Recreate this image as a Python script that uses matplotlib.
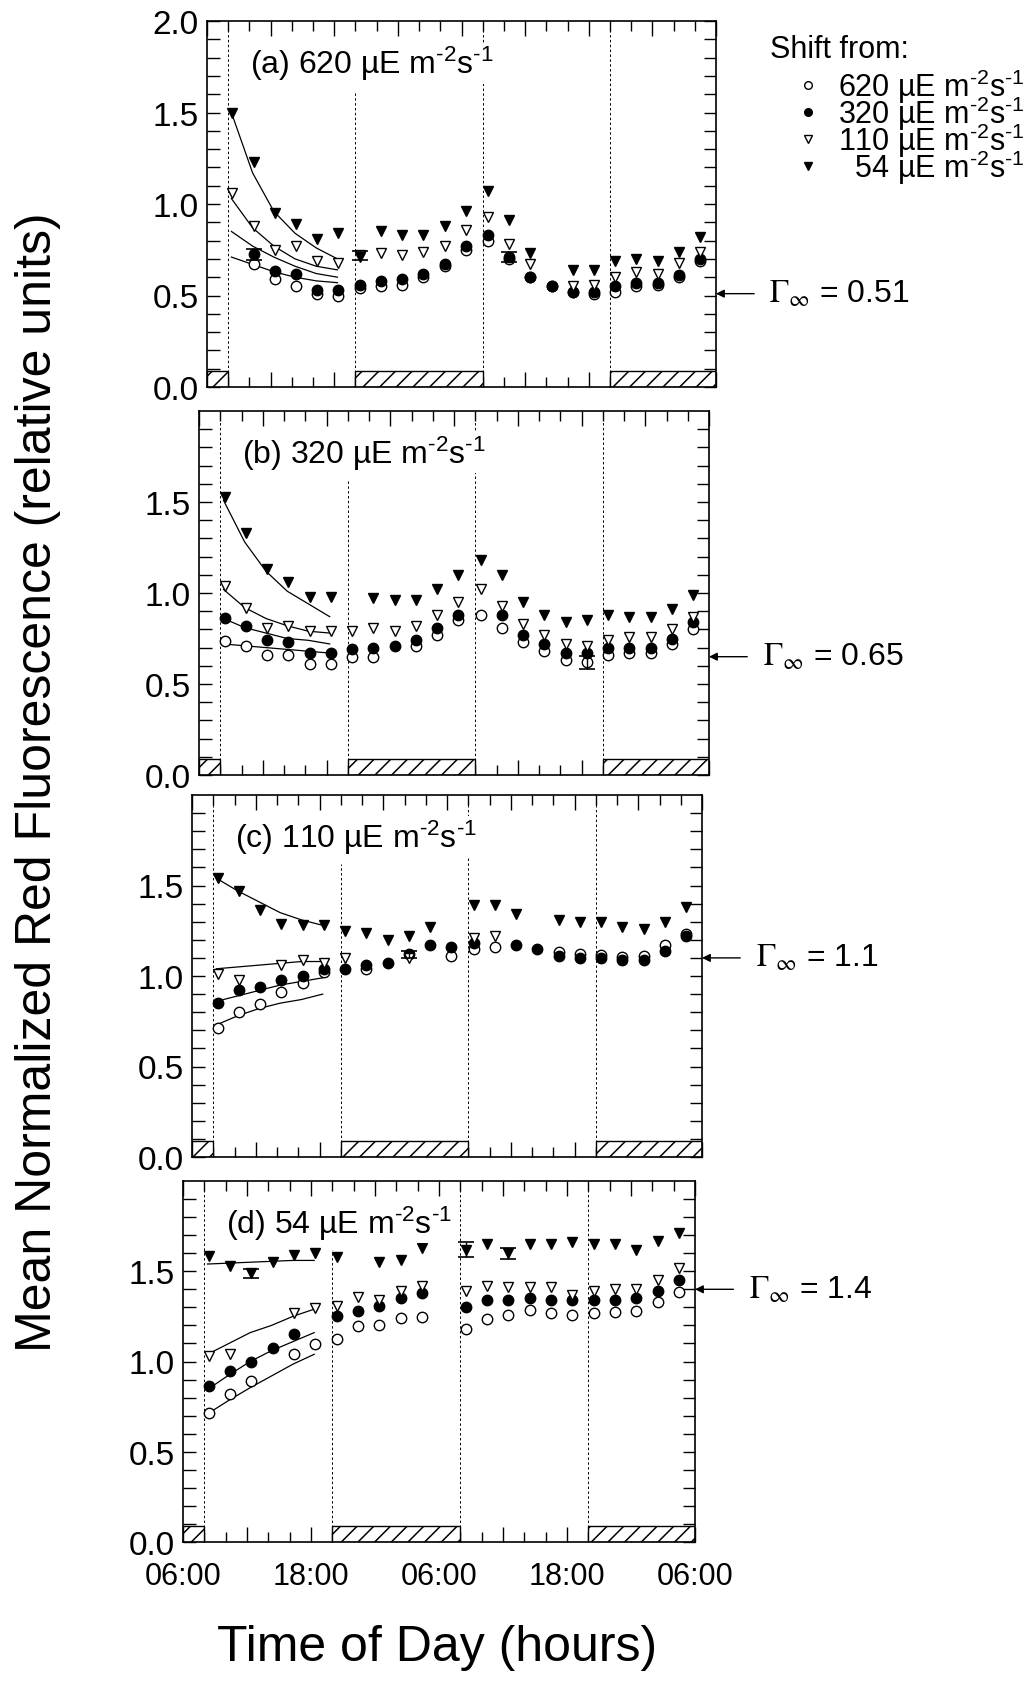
import numpy as np
import matplotlib
matplotlib.use("Agg")
import matplotlib.pyplot as plt
from matplotlib.lines import Line2D
from matplotlib.ticker import FormatStrFormatter
from matplotlib.font_manager import FontProperties
from matplotlib.transforms import blended_transform_factory

plt.rcParams['font.family'] = ['Liberation Sans', 'DejaVu Sans']
plt.rcParams['mathtext.fontset'] = 'custom'
plt.rcParams['mathtext.rm'] = 'Liberation Sans'
plt.rcParams['mathtext.it'] = 'Liberation Sans:italic'
plt.rcParams['hatch.linewidth'] = 1.1

nan = np.nan

# sampling times (hours from 00:00 of day 1), 06:00 -> 06:00 two days later
hours = [8.4, 10.4, 12.4, 14.4, 16.4, 18.4, 20.4, 22.4, 24.4, 26.4, 28.4, 30.4,
         32.5, 34.5, 36.5, 38.5, 40.5, 42.5, 44.5, 46.5, 48.5, 50.5, 52.5]
fit_hours = [8.3, 10.3, 12.3, 14.3, 16.3, 18.3]
dark_periods = [(6, 8), (20, 32), (44, 54)]
dashed_at = [8, 20, 32, 44]
tick_names = ['06:00', '', '18:00', '', '06:00', '', '18:00', '', '06:00']

unit = r' µE m$^{\text{-}2}$s$^{\text{-}1}$'
panel_titles = ['(a) 620' + unit, '(b) 320' + unit, '(c) 110' + unit, '(d) 54' + unit]
gamma_inf = [0.51, 0.65, 1.1, 1.4]
gamma_text = ['0.51', '0.65', '1.1', '1.4']
legend_names = ['620', '320', '110', '  54']

# panel (a)
a_620 = [nan, 0.67, 0.59, 0.55, 0.51, 0.50, 0.54, 0.55, 0.56, 0.60, 0.66, 0.75,
         0.80, 0.70, 0.60, 0.55, 0.52, 0.51, 0.52, 0.55, 0.56, 0.60, 0.69]
a_320 = [nan, 0.725, 0.635, 0.62, 0.53, 0.53, 0.56, 0.58, 0.59, 0.62, 0.67, 0.77,
         0.83, 0.71, 0.60, 0.55, 0.52, 0.52, 0.55, 0.57, 0.57, 0.61, 0.70]
a_110 = [1.06, 0.88, 0.75, 0.77, 0.69, 0.68, 0.72, 0.73, 0.72, 0.74, 0.77, 0.86,
         0.93, 0.78, 0.67, nan, 0.55, 0.56, 0.60, 0.63, 0.62, 0.68, 0.74]
a_54 = [1.50, 1.23, 0.95, 0.89, 0.81, 0.84, 0.71, 0.85, 0.83, 0.83, 0.88, 0.96,
        1.07, 0.91, 0.73, nan, 0.64, 0.64, 0.69, 0.70, 0.69, 0.74, 0.82]
fa_620 = [0.71, 0.67, 0.63, 0.60, 0.58, 0.57]
fa_320 = [0.85, 0.77, 0.71, 0.66, 0.62, 0.60]
fa_110 = [1.03, 0.87, 0.77, 0.70, 0.66, 0.64]
fa_54 = [1.50, 1.17, 0.96, 0.84, 0.76, 0.70]

# panel (b)
b_620 = [0.735, 0.71, 0.66, 0.66, 0.61, 0.61, 0.65, 0.65, nan, 0.71, 0.77, 0.85,
         0.88, 0.81, 0.73, 0.68, 0.63, 0.62, 0.66, 0.67, 0.67, 0.72, 0.80]
b_320 = [0.86, 0.82, 0.74, 0.73, 0.67, 0.67, 0.69, 0.70, 0.71, 0.74, 0.81, 0.88,
         nan, 0.88, 0.77, 0.72, 0.67, 0.67, 0.70, 0.70, 0.70, 0.75, 0.84]
b_110 = [1.04, 0.92, 0.81, 0.82, 0.79, 0.79, 0.79, 0.81, 0.79, 0.82, 0.88, 0.95,
         1.02, 0.93, 0.83, 0.77, 0.72, 0.71, 0.74, 0.76, 0.76, 0.80, 0.87]
b_54 = [1.53, 1.33, 1.13, 1.06, 0.98, 0.98, nan, 0.97, 0.96, 0.96, 1.02, 1.10,
        1.18, 1.10, 0.95, 0.88, 0.84, 0.85, 0.88, 0.87, 0.87, 0.91, 0.99]
fb_620 = [0.72, 0.71, 0.70, 0.69, 0.68, 0.67]
fb_320 = [0.86, 0.81, 0.78, 0.75, 0.74, 0.72]
fb_110 = [1.02, 0.92, 0.86, 0.82, 0.79, 0.78]
fb_54 = [1.51, 1.28, 1.12, 1.01, 0.94, 0.87]

# panel (c)
c_620 = [0.71, 0.80, 0.845, 0.91, 0.96, 1.02, nan, 1.04, nan, nan, nan, 1.11,
         1.15, 1.16, nan, nan, 1.13, 1.12, 1.115, 1.105, 1.11, 1.17, 1.23]
c_320 = [0.85, 0.92, 0.94, 0.98, 1.00, 1.04, 1.04, 1.06, 1.07, 1.12, 1.17, 1.16,
         1.18, nan, 1.17, 1.15, 1.11, 1.10, 1.10, 1.09, 1.09, 1.14, 1.22]
c_110 = [1.01, 0.976, nan, 1.06, 1.09, 1.07, 1.10, nan, nan, 1.10, nan, nan,
         1.21, 1.22, nan, nan, nan, nan, nan, nan, nan, nan, nan]
c_54 = [1.54, 1.47, 1.365, 1.29, 1.28, 1.28, 1.25, 1.24, 1.20, 1.22, 1.27, nan,
        1.39, 1.39, 1.34, nan, 1.31, 1.30, 1.30, 1.27, 1.26, 1.30, 1.38]
fc_620 = [0.73, 0.78, 0.82, 0.85, 0.87, 0.90]
fc_320 = [0.86, 0.89, 0.92, 0.95, 0.97, 0.99]
fc_110 = [1.04, 1.05, 1.06, 1.07, 1.08, 1.08]
fc_54 = [1.54, 1.47, 1.41, 1.35, 1.31, 1.28]

# panel (d)
d_620 = [0.715, 0.82, 0.89, nan, 1.04, 1.095, 1.125, 1.195, 1.20, 1.24, 1.245, nan,
         1.18, 1.235, 1.26, 1.285, 1.27, 1.26, 1.27, 1.275, 1.28, 1.33, 1.385]
d_320 = [0.865, 0.945, 1.00, 1.075, 1.15, nan, 1.25, 1.28, 1.31, 1.35, 1.38, nan,
         1.30, 1.34, 1.34, 1.35, 1.34, 1.34, 1.34, 1.34, 1.35, 1.39, 1.45]
d_110 = [1.03, 1.04, nan, nan, 1.27, 1.295, 1.31, 1.355, 1.34, 1.39, 1.42, nan,
         1.39, 1.42, 1.41, 1.41, 1.41, 1.37, 1.39, 1.40, 1.40, 1.45, 1.52]
d_54 = [1.585, 1.53, 1.49, 1.55, 1.59, 1.60, 1.58, nan, 1.55, 1.565, 1.63, nan,
        1.62, 1.65, 1.60, 1.65, 1.65, 1.66, 1.65, 1.65, 1.62, 1.67, 1.71]
fd_620 = [0.71, 0.785, 0.855, 0.92, 0.985, 1.04]
fd_320 = [0.845, 0.925, 1.00, 1.06, 1.11, 1.16]
fd_110 = [1.04, 1.10, 1.16, 1.20, 1.25, 1.29]
fd_54 = [1.54, 1.545, 1.55, 1.555, 1.56, 1.56]

# error bars: (series, point index, half-width)
a_err = [('320', 1, 0.03), ('110', 6, 0.025), ('320', 13, 0.025)]
b_err = [('620', 17, 0.035)]
c_err = [('320', 9, 0.02)]
d_err = [('54', 2, 0.025), ('54', 12, 0.04), ('54', 14, 0.03)]

panels = [
    ({'620': a_620, '320': a_320, '110': a_110, '54': a_54},
     {'620': fa_620, '320': fa_320, '110': fa_110, '54': fa_54}, a_err),
    ({'620': b_620, '320': b_320, '110': b_110, '54': b_54},
     {'620': fb_620, '320': fb_320, '110': fb_110, '54': fb_54}, b_err),
    ({'620': c_620, '320': c_320, '110': c_110, '54': c_54},
     {'620': fc_620, '320': fc_320, '110': fc_110, '54': fc_54}, c_err),
    ({'620': d_620, '320': d_320, '110': d_110, '54': d_54},
     {'620': fd_620, '320': fd_320, '110': fd_110, '54': fd_54}, d_err),
]

series_keys = ['620', '320', '110', '54']
styles = {
    '620': dict(marker='o', ms=7.5, mfc='white', mec='black', mew=1.0),
    '320': dict(marker='o', ms=7.5, mfc='black', mec='black', mew=1.0),
    '110': dict(marker='v', ms=7.5, mfc='white', mec='black', mew=1.0),
    '54': dict(marker='v', ms=7.5, mfc='black', mec='black', mew=1.0),
}

# axes boxes in pixels: left, right, y(0.0), y(2.0)
boxes = [(207, 716, 388, 22), (199, 709, 776, 412), (192, 702, 1158, 796), (183, 695, 1543, 1182)]
W, H = 1030, 1690

fig = plt.figure(figsize=(W / 100, H / 100), dpi=100)

for i, (series, fits, errs) in enumerate(panels):
    l, r, y0, y2 = boxes[i]
    ax = fig.add_axes([l / W, 1 - y0 / H, (r - l) / W, (y0 - y2) / H])
    ax.set_xlim(6, 54)
    ax.set_ylim(0, 2.0)

    for t in dashed_at:
        top = 1.62 if t == 20 else 2.0
        ax.vlines(t, 0, top, colors='black', linestyles=(0, (2.5, 2.5)), lw=0.7, zorder=1)
    for t0, t1 in dark_periods:
        ax.bar(t0, 0.09, width=t1 - t0, align='edge', facecolor='white',
               edgecolor='black', hatch='//', lw=1.0, zorder=2)

    for key in series_keys:
        ax.plot(fit_hours, fits[key], color='black', lw=0.9, zorder=3)
    for key in series_keys:
        ax.plot(hours, series[key], ls='none', zorder=4, **styles[key])
    for key, idx, e in errs:
        ax.errorbar(hours[idx], series[key][idx], yerr=e, fmt='none', ecolor='black',
                    elinewidth=1.0, capsize=6, capthick=1.2, zorder=5)

    ax.text(10.05, 1.77, panel_titles[i], fontsize=23, va='center', ha='left', zorder=6,
            bbox=dict(facecolor='white', edgecolor='none', pad=1))

    ax.set_yticks([0, 0.5, 1.0, 1.5, 2.0] if i == 0 else [0, 0.5, 1.0, 1.5])
    ax.set_yticks(np.arange(0, 2.0, 0.1), minor=True)
    ax.set_xticks(np.arange(6, 55, 6))
    ax.set_xticks(np.arange(6, 55, 2), minor=True)
    if i == 3:
        ax.set_xticklabels(tick_names)
    else:
        ax.set_xticklabels([])
    ax.tick_params(which='both', direction='in', top=True, right=True, width=1.0)
    ax.tick_params(axis='x', which='major', length=11, pad=14, labelsize=22)
    ax.tick_params(axis='x', which='minor', length=7)
    ax.tick_params(axis='y', which='major', length=9, pad=6, labelsize=24)
    ax.tick_params(axis='y', which='minor', length=9)
    ax.yaxis.set_major_formatter(FormatStrFormatter('%.1f'))
    for s in ax.spines.values():
        s.set_linewidth(1.2)

    g = gamma_inf[i]
    tr = blended_transform_factory(ax.transAxes, ax.transData)
    ax.annotate('', xy=(1.0, g), xycoords=tr, xytext=(1.075, g), textcoords=tr,
                arrowprops=dict(arrowstyle='-|>', color='black', lw=1.0,
                                mutation_scale=12, shrinkA=0, shrinkB=0))
    ax.text(1.105, g, r'$\Gamma_\infty$ = ' + gamma_text[i], transform=tr,
            fontsize=23, va='center', ha='left', math_fontfamily='stix')

# legend block: heading, four markers, and one multi-line text whose rows sit on the markers
fig.text(770 / W, 1 - 50 / H, 'Shift from:', fontsize=22, va='center', ha='left')
leg_rows = [86, 113, 140, 167]
for key, yy in zip(series_keys, leg_rows):
    st = dict(styles[key])
    st['ms'] = 5.5
    fig.lines.append(Line2D([808 / W], [1 - yy / H], ls='none',
                            transform=fig.transFigure, **st))

leg_lines = [n + unit for n in legend_names]
rend = fig.canvas.get_renderer()
leg_prop = FontProperties(size=22)
_, lp_h, lp_d = rend.get_text_width_height_descent('lp', leg_prop, ismath=False)
metrics = [(max(h, lp_h), max(d, lp_d)) for _, h, d in
           (rend.get_text_width_height_descent(s, leg_prop, ismath=True) for s in leg_lines)]
asc = metrics[0][0] - metrics[0][1]
desc = metrics[0][1]
# baseline-to-baseline step = previous descent + ascent * linespacing
row_gap = leg_rows[1] - leg_rows[0]
leg_ls = (row_gap - desc) / asc
digit_mid = 0.358 * 22 * 100 / 72  # half the digit height above the baseline, px
top_px = leg_rows[0] + digit_mid - asc
fig.text(838 / W, 1 - top_px / H, '\n'.join(leg_lines), fontproperties=leg_prop,
         va='top', ha='left', linespacing=leg_ls)

fig.text(38 / W, 1 - 782 / H, 'Mean Normalized Red Fluorescence (relative units)',
         rotation=90, fontsize=36, va='center', ha='center')
fig.text(437 / W, 1 - 1648 / H, 'Time of Day (hours)', fontsize=36, va='center', ha='center')

fig.savefig('out.png', dpi=100)
